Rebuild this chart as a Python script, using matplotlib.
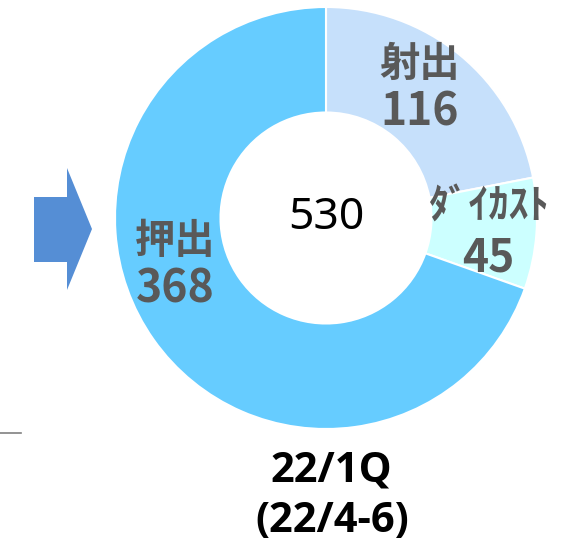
'''
donut chart of segment sales, 22/1Q
'''

import matplotlib.pyplot as plt
from matplotlib.patches import Polygon

plt.rcParams['font.family'] = ['Noto Sans CJK JP', 'DejaVu Sans']

categories = ['射出', 'ﾀﾞｲｶｽﾄ', '押出']
values = [116, 45, 368]
colors = ['#C6E0FB', '#CCFFFF', '#66CCFF']
total_label = '530'
period_label = ['22/1Q', '(22/4-6)']

W, H = 562, 553
cx, cy, r = 326, 218, 211

fig = plt.figure(figsize=(W / 100, H / 100), dpi=100)

# background axes in pixel coords for arrow, rule, period label
bg = fig.add_axes([0, 0, 1, 1])
bg.set_xlim(0, W)
bg.set_ylim(H, 0)
bg.axis('off')

arrow = [(34, 197), (67, 197), (67, 168), (92, 229), (67, 290), (67, 262), (34, 262)]
bg.add_patch(Polygon(arrow, closed=True, color='#558ED5', lw=0))
bg.plot([0, 21], [433, 433], color='#808080', lw=1.2)

bg.text(331, 471, period_label[0], ha='center', va='center', fontsize=30,
        fontweight='bold', family=['Open Sans', 'DejaVu Sans'])
bg.text(332, 521, period_label[1], ha='center', va='center', fontsize=30,
        fontweight='bold', family=['Open Sans', 'DejaVu Sans'])

ax = fig.add_axes([(cx - r) / W, (H - cy - r) / H, 2 * r / W, 2 * r / H])
ax.pie(values, colors=colors, startangle=90, counterclock=False, radius=1,
       wedgeprops=dict(width=0.5, edgecolor='white', linewidth=1.5))
ax.set_xlim(-1, 1)
ax.set_ylim(-1, 1)
ax.set_aspect('equal')
ax.axis('off')

ax.text(0, 0, total_label, ha='center', va='center', fontsize=32,
        family=['Noto Sans', 'DejaVu Sans'])

# label positions (name line, value line) in axes data units
label_pos = [(0.445, 0.73, 0.50), (0.77, 0.05, -0.19), (-0.715, -0.11, -0.34)]
for name, val, (x, y1, y2) in zip(categories, values, label_pos):
    ax.text(x, y1, name, ha='center', va='center', fontsize=29,
            fontweight='bold', color='#595959')
    ax.text(x, y2, str(val), ha='center', va='center', fontsize=32,
            fontweight='bold', color='#595959')

fig.savefig('out.png', dpi=100)
